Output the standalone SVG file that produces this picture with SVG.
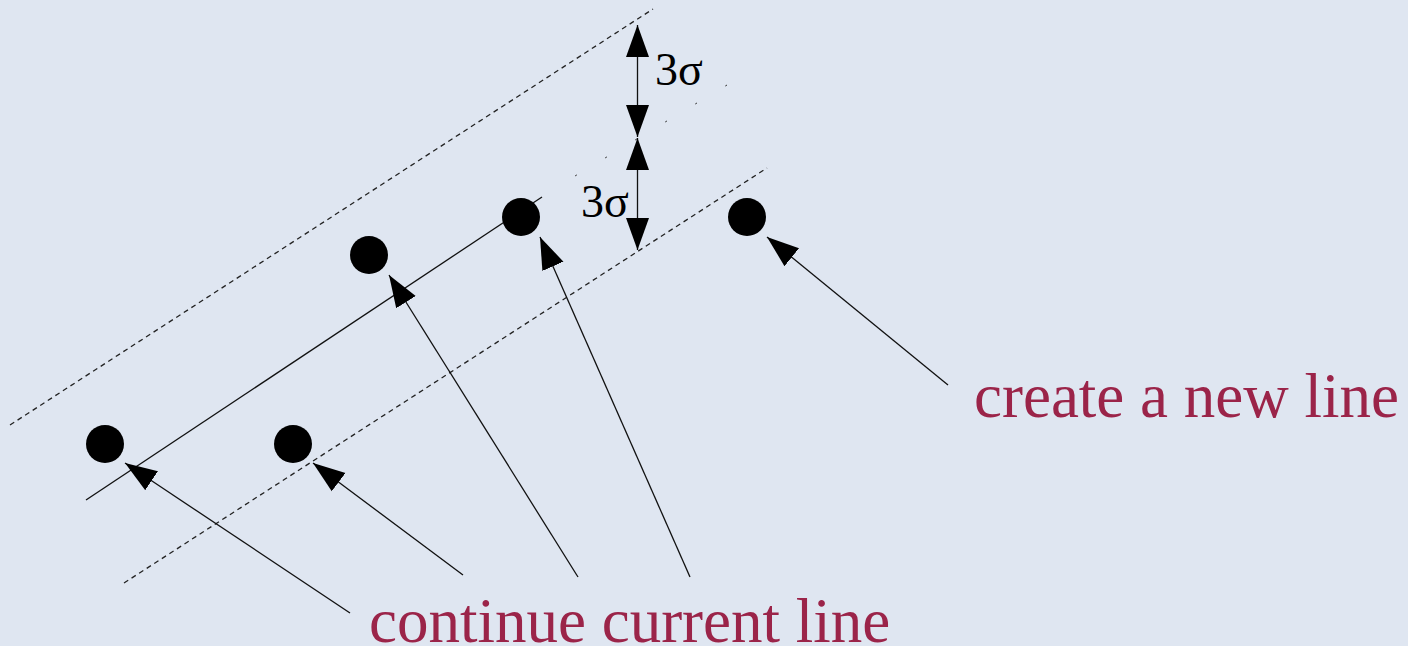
<svg xmlns="http://www.w3.org/2000/svg" width="1408" height="646" viewBox="0 0 1408 646">
<defs>
<style>
.dash{stroke:#222;stroke-width:1.3;stroke-dasharray:5 4;fill:none}
.ln{stroke:#111;stroke-width:1.3;fill:none}
.dot{fill:#000}
.lbl{font-family:"Liberation Serif","Times New Roman",serif;font-size:63px;fill:#9b2449}
.sig{font-family:"Liberation Serif","Times New Roman",serif;font-size:46px;fill:#000}
</style>
<marker id="ah" markerUnits="userSpaceOnUse" markerWidth="34" markerHeight="26" viewBox="-32 -12 34 24" refX="0" refY="0" orient="auto-start-reverse">
<path d="M0,0 L-32,-11.5 L-32,11.5 Z" fill="#000"/>
</marker>
</defs>
<rect width="1408" height="646" fill="#dfe6f1"/>
<g id="guides">
<line class="dash" x1="10" y1="425" x2="653" y2="9"/>
<line class="dash" x1="124" y1="583" x2="767" y2="168"/>
<line class="ln" x1="86" y1="500" x2="542" y2="197"/>
<line x1="727" y1="85" x2="570" y2="179" stroke="#333" stroke-width="1" stroke-dasharray="2 33"/>
</g>
<g id="points">
<circle id="p1" class="dot" cx="105" cy="444" r="19"/>
<circle id="p2" class="dot" cx="293" cy="444" r="19"/>
<circle id="p3" class="dot" cx="369" cy="255" r="19"/>
<circle id="p4" class="dot" cx="521" cy="217" r="19"/>
<circle id="p5" class="dot" cx="747" cy="217" r="19"/>
</g>
<g id="connectors">
<line class="ln" x1="350" y1="613" x2="125" y2="463" marker-end="url(#ah)"/>
<line class="ln" x1="463" y1="575" x2="313" y2="463" marker-end="url(#ah)"/>
<line class="ln" x1="578" y1="577" x2="389" y2="275" marker-end="url(#ah)"/>
<line class="ln" x1="690" y1="577" x2="540" y2="237" marker-end="url(#ah)"/>
<line class="ln" x1="948" y1="385" x2="767" y2="237" marker-end="url(#ah)"/>
<line class="ln" x1="637.5" y1="25" x2="637.5" y2="137" marker-start="url(#ah)" marker-end="url(#ah)"/>
<line class="ln" x1="637.5" y1="138" x2="637.5" y2="250" marker-start="url(#ah)" marker-end="url(#ah)"/>
</g>
<g id="labels">
<text class="sig" x="655" y="85">3σ</text>
<text class="sig" x="581" y="217">3σ</text>
<text class="lbl" x="974" y="417">create a new line</text>
<text class="lbl" x="369" y="642">continue current line</text>
</g>
</svg>
